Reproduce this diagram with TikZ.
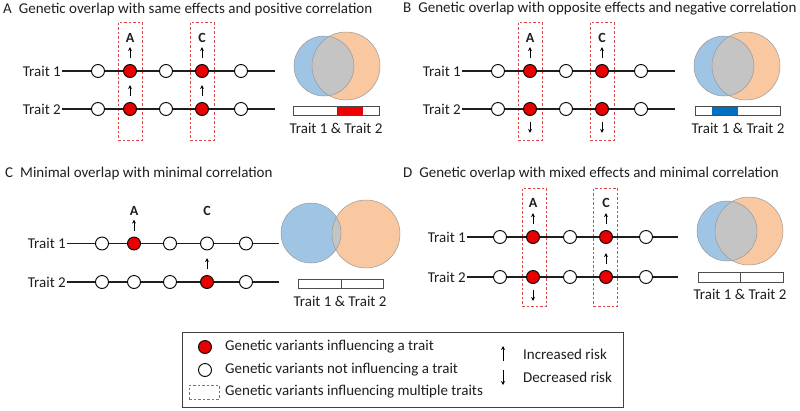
\documentclass[tikz,border=0pt]{standalone}
\usepackage{fontspec}
\setmainfont{Carlito}
\usetikzlibrary{arrows.meta}
\definecolor{dashred}{HTML}{E04848}
\definecolor{vblue}{HTML}{9FC4E4}
\definecolor{vorange}{HTML}{F9C8A0}
\definecolor{vgray}{HTML}{C4C4C4}
\definecolor{barred}{HTML}{F00000}
\definecolor{barblue}{HTML}{0070C0}
\definecolor{dotred}{HTML}{E80000}
\definecolor{inkc}{HTML}{1E1E1E}
\begin{document}
\begin{tikzpicture}[x=1pt,y=-1pt,
  every node/.style={font=\fontsize{15}{18}\selectfont, text=inkc},
  title/.style={anchor=west, inner sep=0pt},
  trait/.style={anchor=east, inner sep=1pt},
  tline/.style={draw=inkc, line width=1.1pt},
  on/.style={circle, draw=black, fill=dotred, line width=0.9pt, minimum size=13pt, inner sep=0pt},
  off/.style={circle, draw=black, fill=white, line width=0.9pt, minimum size=13pt, inner sep=0pt},
  multi/.style={draw=dashred, dash pattern=on 2.5pt off 2pt, line width=0.8pt, minimum width=24pt, minimum height=118pt, inner sep=0pt},
  snp/.style={font=\fontsize{14}{16}\selectfont\bfseries, inner sep=0pt},
  risk/.style={draw=black, line width=0.9pt, -{Stealth[length=4pt,width=4pt]}},
  vline/.style={draw=black!40, line width=0.5pt},
  barline/.style={draw=black!70, line width=0.7pt},
  lt/.style={anchor=west, inner sep=0pt}]
\useasboundingbox (0,0) rectangle (800,410);

% ================= Panel A =================
\node[title] (tA) at (3,9) {A\hspace{7pt}Genetic overlap with same effects and positive correlation};
\node[multi] (Am1) at (130,81) {};
\node[multi] (Am2) at (202,81) {};
\node[trait] (At1) at (62,71) {Trait 1};
\node[trait] (At2) at (62,109) {Trait 2};
\coordinate (Ae1) at (275,71);
\coordinate (Ae2) at (275,109);
\draw[tline] (At1) -- (Ae1);
\draw[tline] (At2) -- (Ae2);
\foreach \x/\s [count=\i] in {98/off,130/on,166/off,202/on,241/off} {
  \node[\s] (a1\i) at (\x,71) {};
  \node[\s] (a2\i) at (\x,109) {};
}
\node[snp] (Al1) at (130,38) {A};
\node[snp] (Al2) at (202,38) {C};
\foreach \n in {a12,a14,a22,a24} {
  \draw[risk] ([yshift=6pt]\n.north) -- ([yshift=17pt]\n.north);
}
\fill[vorange] (346,66) circle (34pt);
\fill[vblue] (324,66) circle (30pt);
\begin{scope}
  \clip (346,66) circle (34pt);
  \fill[vgray] (324,66) circle (30pt);
\end{scope}
\draw[vline] (346,66) circle (34pt);
\draw[vline] (324,66) circle (30pt);
\fill[barred] (337,106) rectangle (363,115);
\draw[barline] (293,106) rectangle (379,115);
\node (Abl) at (336,128) {Trait 1 \& Trait 2};

% ================= Panel B =================
\begin{scope}[shift={(400,0)}]
\node[title] (tB) at (3,9) {B\hspace{7pt}Genetic overlap with opposite effects and negative correlation};
\node[multi] (Bm1) at (130,81) {};
\node[multi] (Bm2) at (202,81) {};
\node[trait] (Bt1) at (62,71) {Trait 1};
\node[trait] (Bt2) at (62,109) {Trait 2};
\coordinate (Be1) at (275,71);
\coordinate (Be2) at (275,109);
\draw[tline] (Bt1) -- (Be1);
\draw[tline] (Bt2) -- (Be2);
\foreach \x/\s [count=\i] in {98/off,130/on,166/off,202/on,241/off} {
  \node[\s] (b1\i) at (\x,71) {};
  \node[\s] (b2\i) at (\x,109) {};
}
\node[snp] (Bl1) at (130,38) {A};
\node[snp] (Bl2) at (202,38) {C};
\foreach \n in {b12,b14} {
  \draw[risk] ([yshift=6pt]\n.north) -- ([yshift=17pt]\n.north);
}
\foreach \n in {b22,b24} {
  \draw[risk] ([yshift=-6pt]\n.south) -- ([yshift=-17pt]\n.south);
}
\fill[vorange] (346,66) circle (34pt);
\fill[vblue] (324,66) circle (30pt);
\begin{scope}
  \clip (346,66) circle (34pt);
  \fill[vgray] (324,66) circle (30pt);
\end{scope}
\draw[vline] (346,66) circle (34pt);
\draw[vline] (324,66) circle (30pt);
\fill[barblue] (312,106) rectangle (338,115);
\draw[barline] (295,106) rectangle (380,115);
\node (Bbl) at (338,128) {Trait 1 \& Trait 2};
\end{scope}

% ================= Panel C =================
\node[title] (tC) at (5,173) {C\hspace{7pt}Minimal overlap with minimal correlation};
\node[trait] (Ct1) at (67,243.5) {Trait 1};
\node[trait] (Ct2) at (67,282) {Trait 2};
\coordinate (Ce1) at (279,243.5);
\coordinate (Ce2) at (279,282);
\draw[tline] (Ct1) -- (Ce1);
\draw[tline] (Ct2) -- (Ce2);
\foreach \x/\s/\t [count=\i] in {102/off/off,134/on/off,170/off/off,207/off/on,246/off/off} {
  \node[\s] (c1\i) at (\x,243.5) {};
  \node[\t] (c2\i) at (\x,282) {};
}
\node[snp] (Cl1) at (134,211) {A};
\node[snp] (Cl2) at (207,211) {C};
\foreach \n in {c12,c24} {
  \draw[risk] ([yshift=6pt]\n.north) -- ([yshift=17pt]\n.north);
}
\fill[vorange] (366,234) circle (34pt);
\fill[vblue] (311,233) circle (30pt);
\begin{scope}
  \clip (366,234) circle (34pt);
  \fill[vgray] (311,233) circle (30pt);
\end{scope}
\draw[vline] (366,234) circle (34pt);
\draw[vline] (311,233) circle (30pt);
\draw[barline] (298,279) rectangle (383,288.5);
\draw[barline] (341,279) -- (341,288.5);
\node (Cbl) at (340,301) {Trait 1 \& Trait 2};

% ================= Panel D =================
\node[title] (tD) at (403,173) {D\hspace{7pt}Genetic overlap with mixed effects and minimal correlation};
\node[multi] (Dm1) at (534,247) {};
\node[multi] (Dm2) at (605.5,247) {};
\node[trait] (Dt1) at (467,237) {Trait 1};
\node[trait] (Dt2) at (467,277) {Trait 2};
\coordinate (De1) at (678,237);
\coordinate (De2) at (678,277);
\draw[tline] (Dt1) -- (De1);
\draw[tline] (Dt2) -- (De2);
\foreach \x/\s [count=\i] in {500/off,533/on,570/off,606/on,646/off} {
  \node[\s] (d1\i) at (\x,237) {};
  \node[\s] (d2\i) at (\x,277) {};
}
\node[snp] (Dl1) at (533,203) {A};
\node[snp] (Dl2) at (606,203) {C};
\foreach \n in {d12,d14,d24} {
  \draw[risk] ([yshift=6pt]\n.north) -- ([yshift=17pt]\n.north);
}
\draw[risk] ([yshift=-6pt]d22.south) -- ([yshift=-17pt]d22.south);
\fill[vorange] (749,231) circle (34pt);
\fill[vblue] (727,231) circle (30pt);
\begin{scope}
  \clip (749,231) circle (34pt);
  \fill[vgray] (727,231) circle (30pt);
\end{scope}
\draw[vline] (749,231) circle (34pt);
\draw[vline] (727,231) circle (30pt);
\draw[barline] (698,272.5) rectangle (783,282);
\draw[barline] (740,272.5) -- (740,282);
\node (Dbl) at (740,294.5) {Trait 1 \& Trait 2};

% ================= Legend =================
\draw[draw=black!75, line width=1pt] (182,332) rectangle (623,407);
\node[on] (L1) at (205,347) {};
\node[lt] (L1t) at (225,347) {Genetic variants influencing a trait};
\node[off] (L2) at (205,370) {};
\node[lt] (L2t) at (225,370) {Genetic variants not influencing a trait};
\node[multi, line width=1pt, minimum width=30pt, minimum height=14pt] (L3) at (204,392) {};
\node[lt] (L3t) at (225,392) {Genetic variants influencing multiple traits};
\coordinate (Lu0) at (503,361);
\coordinate (Lu1) at (503,346);
\coordinate (Ld0) at (503,370);
\coordinate (Ld1) at (503,385);
\draw[risk] (Lu0) -- (Lu1);
\draw[risk] (Ld0) -- (Ld1);
\node[lt] (L4t) at (523,354) {Increased risk};
\node[lt] (L5t) at (523,377) {Decreased risk};
\end{tikzpicture}
\end{document}
